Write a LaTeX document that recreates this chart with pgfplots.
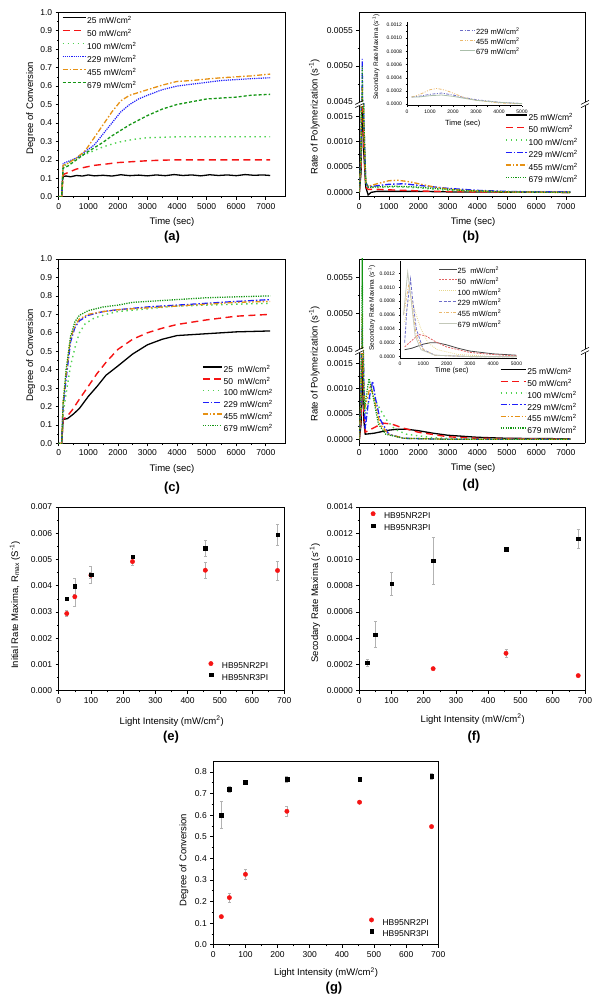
\documentclass[border=0pt]{standalone}
\usepackage{fontspec}
\setmainfont{Liberation Sans}
\usepackage{pgfplots}
\pgfplotsset{compat=1.18}
\usepackage{pgfplotstable}

\definecolor{cRed}{RGB}{245,20,20}
\definecolor{cLG}{RGB}{80,210,80}
\definecolor{cBlue}{RGB}{30,30,250}
\definecolor{cOr}{RGB}{230,145,20}
\definecolor{cDG}{RGB}{20,150,20}
\definecolor{iBlue}{RGB}{110,110,200}
\definecolor{iOr}{RGB}{235,185,110}
\definecolor{iGr}{RGB}{170,190,170}
\definecolor{iGray}{RGB}{70,70,70}
\definecolor{iRed}{RGB}{225,100,100}
\definecolor{iYel}{RGB}{230,215,140}
\definecolor{iLG}{RGB}{195,200,185}

% ---------- panel (a) ----------
\pgfplotstableread{
x y
0 0
100 0
130 0.09
160 0.11
250 0.112
400 0.108
600 0.115
800 0.112
1000 0.118
1200 0.113
1500 0.116
1800 0.112
2100 0.119
2400 0.114
2700 0.117
3000 0.113
3300 0.118
3600 0.114
3900 0.12
4200 0.115
4500 0.118
4800 0.113
5100 0.119
5400 0.115
5700 0.118
6000 0.114
6300 0.12
6600 0.116
6900 0.118
7150 0.115
}\taA
\pgfplotstableread{
x y
0 0
100 0
150 0.12
300 0.13
600 0.15
900 0.16
1200 0.17
1500 0.175
2000 0.185
2500 0.19
3000 0.195
3500 0.198
4000 0.2
5000 0.2
6000 0.2
7150 0.2
}\taB
\pgfplotstableread{
x y
0 0
100 0
150 0.16
300 0.18
600 0.21
900 0.23
1200 0.25
1500 0.27
2000 0.295
2500 0.31
3000 0.32
3500 0.322
4000 0.325
5000 0.325
6000 0.325
7150 0.325
}\taC
\pgfplotstableread{
x y
0 0
100 0
150 0.18
300 0.19
600 0.21
900 0.245
1200 0.28
1500 0.34
1800 0.40
2100 0.46
2400 0.50
2700 0.53
3000 0.55
3500 0.58
4000 0.60
4500 0.61
5000 0.62
5500 0.63
6000 0.635
6500 0.64
7150 0.645
}\taD
\pgfplotstableread{
x y
0 0
100 0
150 0.17
300 0.18
600 0.21
900 0.25
1200 0.32
1500 0.39
1800 0.46
2100 0.52
2400 0.55
2700 0.565
3000 0.58
3500 0.605
4000 0.625
4500 0.63
5000 0.638
5500 0.645
6000 0.65
6500 0.655
7150 0.665
}\taE
\pgfplotstableread{
x y
0 0
100 0
150 0.155
300 0.165
600 0.2
900 0.235
1200 0.265
1500 0.295
1800 0.33
2100 0.36
2400 0.39
2700 0.415
3000 0.44
3500 0.475
4000 0.5
4500 0.515
5000 0.53
5500 0.535
6000 0.54
6500 0.55
7150 0.555
}\taF

% ---------- panel (b) ----------
\pgfplotstableread{
x y
0 0
60 0.0004
100 0.0022
150 0.0008
220 0.0001
300 -0.00005
400 0.0
600 0.00002
1000 0.00002
2000 0.00002
3000 0.00001
5000 0.000005
7150 0
}\tbA
\pgfplotstableread{
x y
0 0
60 0.0005
100 0.003
150 0.001
220 0.0001
300 0.00006
600 0.00006
1000 0.00005
1500 0.00004
2500 0.00002
4000 0.00001
7150 0
}\tbB
\pgfplotstableread{
x y
0 0
60 0.0006
100 0.004
150 0.0012
220 0.0002
300 0.0001
700 0.0001
1300 0.00011
2000 0.00009
3000 0.00004
4000 0.00002
5500 0.000005
7150 0
}\tbC
\pgfplotstableread{
x y
0 0
60 0.0008
100 0.0051
150 0.0015
220 0.0002
300 0.00011
600 0.00013
1000 0.00016
1500 0.00017
2000 0.00014
2500 0.00011
3000 0.00008
4000 0.00004
5000 0.00002
6000 0.00001
7150 0.00001
}\tbD
\pgfplotstableread{
x y
0 0
60 0.0008
100 0.0047
150 0.0014
220 0.0002
300 0.00012
600 0.00017
1000 0.00023
1300 0.00024
1700 0.00021
2500 0.00011
3000 0.00007
3500 0.00004
5000 0.00001
7150 0
}\tbE
\pgfplotstableread{
x y
0 0
60 0.0008
100 0.0050
150 0.0015
220 0.0002
300 0.0001
700 0.00011
1200 0.00012
1800 0.00011
2500 0.00008
3500 0.00004
5000 0.00001
7150 0
}\tbF
\pgfplotstableread{
x y
200 0.00011
500 0.00012
1000 0.00015
1500 0.00017
2000 0.00014
2500 0.0001
3000 0.00007
4000 0.00003
5000 0.00001
}\tbiD
\pgfplotstableread{
x y
200 0.00011
500 0.00014
1000 0.00022
1300 0.00024
1700 0.00021
2500 0.0001
3000 0.00006
4000 0.00002
5000 0.000005
}\tbiE
\pgfplotstableread{
x y
200 0.00011
500 0.00011
1000 0.00013
1500 0.00014
2000 0.00012
3000 0.00006
4000 0.00003
5000 0.00001
}\tbiF

% ---------- panel (c) ----------
\pgfplotstableread{
x y
0 0
100 0
150 0.13
300 0.135
500 0.16
700 0.19
1000 0.255
1300 0.31
1600 0.37
2000 0.42
2500 0.485
3000 0.535
3500 0.565
4000 0.585
5000 0.595
6000 0.605
7150 0.61
}\tcA
\pgfplotstableread{
x y
0 0
100 0
150 0.13
300 0.15
450 0.18
700 0.24
1000 0.31
1300 0.38
1600 0.44
2000 0.51
2500 0.565
3000 0.60
3500 0.625
4000 0.645
5000 0.67
6000 0.69
7150 0.70
}\tcB
\pgfplotstableread{
x y
0 0
100 0
150 0.16
250 0.27
400 0.42
550 0.52
700 0.6
900 0.65
1200 0.68
1600 0.70
2000 0.715
3000 0.73
4000 0.745
5000 0.75
6000 0.755
7150 0.76
}\tcC
\pgfplotstableread{
x y
0 0
100 0
150 0.2
250 0.35
400 0.55
550 0.63
700 0.665
1000 0.695
1500 0.715
2000 0.725
3000 0.74
4000 0.75
5000 0.76
6000 0.77
7150 0.78
}\tcD
\pgfplotstableread{
x y
0 0
100 0
150 0.22
250 0.38
400 0.57
550 0.64
700 0.675
1000 0.7
1500 0.715
2000 0.725
3000 0.735
4000 0.745
5000 0.755
6000 0.765
7150 0.77
}\tcE
\pgfplotstableread{
x y
0 0
100 0
150 0.22
250 0.4
400 0.58
550 0.66
700 0.695
1000 0.72
1500 0.74
2000 0.75
2500 0.765
3000 0.77
4000 0.78
5000 0.79
6000 0.795
7150 0.80
}\tcF

% ---------- panel (d) ----------
\pgfplotstableread{
x y
0 0
60 0.0003
100 0.0016
150 0.0004
200 0.0001
500 0.00012
1000 0.00018
1300 0.0002
1600 0.0002
2000 0.00017
2500 0.00012
3000 0.00008
4000 0.00004
5000 0.00002
7150 0.00001
}\tdA
\pgfplotstableread{
x y
0 0
60 0.0004
100 0.0025
150 0.0006
200 0.00014
400 0.0002
800 0.00032
1100 0.0003
1500 0.00022
2000 0.00014
3000 0.00005
4000 0.00002
7150 0
}\tdB
\pgfplotstableread{
x y
0 0
60 0.0006
100 0.004
150 0.0010
200 0.0005
350 0.0008
500 0.00082
700 0.0006
900 0.0004
1200 0.0002
1600 0.0001
2500 0.00003
4000 0
7150 0
}\tdC
\pgfplotstableread{
x y
0 0
60 0.0008
100 0.0048
150 0.0012
200 0.0002
300 0.0007
450 0.00115
550 0.0008
700 0.0004
1000 0.0001
1500 0.00002
3000 0
7150 0
}\tdD
\pgfplotstableread{
x y
0 0
60 0.0009
100 0.0050
140 0.0012
180 0.0006
380 0.00107
500 0.0008
700 0.0003
1000 0.0001
1500 0.00002
3000 0
7150 0
}\tdE
\pgfplotstableread{
x y
0 0
60 0.001
100 0.0058
140 0.0012
170 0.0006
330 0.0012
450 0.0009
650 0.0003
900 0.0001
1500 0.00002
3000 0
7150 0
}\tdF
\pgfplotstableread{
x y
200 0.0001
500 0.00012
1000 0.00018
1300 0.0002
1600 0.0002
2000 0.00017
2500 0.00012
3000 0.00008
4000 0.00004
5000 0.00002
}\tdiA
\pgfplotstableread{
x y
200 0.00014
400 0.0002
800 0.00032
1100 0.0003
1500 0.00022
2000 0.00014
3000 0.00006
4000 0.00003
5000 0.00001
}\tdiB
\pgfplotstableread{
x y
200 0.0005
350 0.0008
500 0.00082
700 0.0006
900 0.0004
1200 0.0002
1600 0.0001
2500 0.00003
4000 0
5000 0
}\tdiC
\pgfplotstableread{
x y
200 0.0002
300 0.0007
450 0.00112
550 0.0008
700 0.0004
1000 0.0001
1500 0.00002
3000 0
5000 0
}\tdiD
\pgfplotstableread{
x y
150 0.0006
380 0.00105
500 0.0008
700 0.0003
1000 0.0001
1500 0.00002
3000 0
5000 0
}\tdiE
\pgfplotstableread{
x y
150 0.0006
330 0.00122
450 0.0009
650 0.0003
900 0.0001
1500 0.00002
3000 0
5000 0
}\tdiF

% ---------- panels (e), (f), (g) ----------
\pgfplotstableread{
x a ae b be
25 0.00294 0.00012 0.00351 0.00005
50 0.00358 0.00036 0.00398 0.0003
100 0.00440 0.00010 0.00442 0.00032
229 0.00492 0.00015 0.00511 0.00005
455 0.00459 0.0003 0.00543 0.0003
679 0.00458 0.00037 0.00595 0.0004
}\te
\pgfplotstableread{
x a ae
229 0.000168 0.000005
455 0.000285 0.00003
679 0.000115 0.000005
}\tfa
\pgfplotstableread{
x b be
25 0.000213 0.00003
50 0.000428 0.0001
100 0.000815 0.00009
229 0.00099 0.00018
455 0.00108 0.00001
679 0.001158 0.00007
}\tfb
\pgfplotstableread{
x a ae b be
25 0.13 0.005 0.601 0.062
50 0.218 0.022 0.72 0.015
100 0.326 0.022 0.752 0.005
229 0.618 0.025 0.766 0.015
455 0.66 0.005 0.768 0.005
679 0.547 0.005 0.78 0.013
}\tg

\newcommand\lbl{\fontsize{9.5}{11}\selectfont}
\newcommand\plbl{\fontsize{13}{15}\selectfont\bfseries}
\newcommand\ilbl{\fontsize{6.5}{7.5}\selectfont}
\newcommand\cm{mW/cm\textsuperscript{2}}

\pgfplotsset{
  base/.style={
    scale only axis, anchor=south west,
    tick align=outside,
    major tick length=3pt, minor tick length=1.6pt,
    axis line style={line width=0.9pt},
    every tick/.append style={line width=0.6pt, black},
    tick label style={font=\fontsize{8.5}{9}\selectfont},
    scaled x ticks=false, scaled y ticks=false,
    /pgf/number format/assume math mode=true,
    /pgf/number format/1000 sep={},
    minor x tick num=1, minor y tick num=1,
    legend cell align=left,
    legend style={draw=none, fill=none, inner sep=0pt,
      font=\fontsize{8.5}{9}\selectfont,
      nodes={inner sep=1pt, text height=6.5pt, text depth=1.5pt}},
  },
  inset/.style={
    scale only axis, anchor=south west,
    axis lines*=left, tick align=outside,
    major tick length=1.5pt, minor tick length=0.8pt,
    axis line style={line width=0.5pt},
    every tick/.append style={line width=0.4pt, black},
    tick label style={font=\fontsize{5}{5.5}\selectfont},
    xticklabel style={yshift=0.6pt},
    scaled x ticks=false, scaled y ticks=false,
    /pgf/number format/assume math mode=true,
    /pgf/number format/1000 sep={},
    xmin=0, xmax=5000, xtick={0,1000,2000,3000,4000,5000},
    ytick={0,0.0002,0.0004,0.0006,0.0008,0.001,0.0012},
    yticklabel style={/pgf/number format/fixed, /pgf/number format/fixed zerofill, /pgf/number format/precision=4},
    minor x tick num=1, minor y tick num=1,
    legend cell align=left,
    legend style={draw=none, fill=none, inner sep=0pt,
      font=\fontsize{7.5}{8}\selectfont,
      nodes={inner sep=0.6pt, text height=5.5pt, text depth=1.5pt}},
  },
  limg/.style={legend image code/.code={\draw[##1] (0pt,2.9pt) -- (#1,2.9pt);}},
  ilimg/.style={legend image code/.code={\draw[##1] (0pt,2.5pt) -- (#1,2.5pt);}},
  mimg/.style={legend image code/.code={\path[draw=none, fill=none] (0pt,0pt) (13pt,1pt); \draw[##1] plot[only marks] coordinates {(3pt,2.7pt)};}},
  yprec/.style={yticklabel style={/pgf/number format/fixed, /pgf/number format/fixed zerofill, /pgf/number format/precision=#1}},
  s25/.style={black, line width=1.3pt, solid},
  s50/.style={color=cRed, line width=1.4pt, dash pattern=on 7pt off 4.5pt},
  s100/.style={color=cLG, line width=1.4pt, dash pattern=on 1.4pt off 3.6pt},
  s229a/.style={color=cBlue, line width=1.2pt, dash pattern=on 1.2pt off 1pt},
  s229/.style={color=cBlue, line width=1.3pt, dash pattern=on 6pt off 2pt on 1.5pt off 2pt},
  s455a/.style={color=cOr, line width=1.3pt, dash pattern=on 5pt off 2pt on 1.5pt off 2pt},
  s455/.style={color=cOr, line width=1.3pt, dash pattern=on 5pt off 2pt on 1.5pt off 2pt on 1.5pt off 2pt},
  s679a/.style={color=cDG, line width=1.3pt, dash pattern=on 3pt off 2pt},
  s679/.style={color=cDG, line width=1.3pt, dash pattern=on 1.2pt off 1.2pt},
  errb/.style={error bars/y dir=both, error bars/y explicit,
    error bars/error bar style={color=gray!60, line width=0.5pt, solid},
    error bars/error mark options={color=gray!60, mark size=1.5pt, rotate=90, line width=0.5pt}},
  redpt/.style={only marks, mark=*, mark size=2.2pt, color=cRed},
  blkpt/.style={only marks, mark=square*, mark size=1.8pt, color=black},
}

\newcommand\brk[2]{% x, y (pt)
  \fill[white] (#1-3.5pt,#2-1.6pt) rectangle (#1+3.5pt,#2+1.6pt);
  \draw[line width=0.6pt] (#1-4pt,#2-3.6pt) -- (#1+4pt,#2+0.4pt);
  \draw[line width=0.6pt] (#1-4pt,#2-0.4pt) -- (#1+4pt,#2+3.6pt);
}

\begin{document}
\begin{tikzpicture}
\path[use as bounding box] (0pt,0pt) rectangle (601pt,1004pt);

% ================= (a) =================
\begin{axis}[base, tick pos=left, at={(58.7pt,807.3pt)}, width=226.3pt, height=184.4pt,
  xmin=0, xmax=7650, ymin=0, ymax=1,
  xtick={0,1000,2000,3000,4000,5000,6000,7000},
  ytick={0,0.1,0.2,0.3,0.4,0.5,0.6,0.7,0.8,0.9,1.0}, yprec=1,
  limg=23pt,
  legend style={at={(0.013,0.983)}, anchor=north west, row sep=3pt}]
\addplot[s25] table {\taA}; \addlegendentry{25 \cm}
\addplot[s50] table {\taB}; \addlegendentry{50 \cm}
\addplot[s100] table {\taC}; \addlegendentry{100 \cm}
\addplot[s229a] table {\taD}; \addlegendentry{229 \cm}
\addplot[s455a] table {\taE}; \addlegendentry{455 \cm}
\addplot[s679a] table {\taF}; \addlegendentry{679 \cm}
\end{axis}
\node[font=\lbl] at (172pt,782.3pt) {Time (sec)};
\node[font=\plbl] at (172pt,767pt) {(a)};
\node[font=\lbl, rotate=90] at (30.7pt,896pt) {Degree of Conversion};

% ================= (b) =================
\begin{axis}[base, at={(359.3pt,807.3pt)}, width=225.7pt, height=92.7pt,
  axis x line*=bottom, axis y line*=box, xtick pos=left, ytick pos=left,
  xmin=0, xmax=7650, ymin=-0.000085, ymax=0.001745,
  xtick={0,1000,2000,3000,4000,5000,6000,7000},
  ytick={0,0.0005,0.001,0.0015}, yprec=4,
  limg=21pt,
  legend style={at={(0.973,0.121)}, anchor=south east, row sep=2.5pt}]
\addplot[s25] table {\tbA}; \addlegendentry{25 \cm}
\addplot[s50] table {\tbB}; \addlegendentry{50 \cm}
\addplot[s100] table {\tbC}; \addlegendentry{100 \cm}
\addplot[s229] table {\tbD}; \addlegendentry{229 \cm}
\addplot[s455] table {\tbE}; \addlegendentry{455 \cm}
\addplot[s679] table {\tbF}; \addlegendentry{679 \cm}
\end{axis}
\begin{axis}[base, at={(359.3pt,900pt)}, width=225.7pt, height=91.7pt,
  axis x line*=top, axis y line*=box, ytick pos=left, xtick=\empty,
  xmin=0, xmax=7650, ymin=0.00447, ymax=0.00575,
  ytick={0.0045,0.005,0.0055}, yprec=4]
\addplot[s25] table {\tbA};
\addplot[s50] table {\tbB};
\addplot[s100] table {\tbC};
\addplot[s229] table {\tbD};
\addplot[s455] table {\tbE};
\addplot[s679] table {\tbF};
\end{axis}
\brk{359.3pt}{900pt}
\brk{585pt}{900pt}
\begin{axis}[inset, at={(407pt,898.4pt)}, width=115pt, height=83.9pt,
  ymin=-0.00002, ymax=0.00125,
  ilimg=15pt,
  legend style={at={(0.456,0.92)}, anchor=north west, row sep=1.8pt}]
\addplot[color=iBlue, line width=0.8pt, dash pattern=on 3pt off 1.5pt on 1pt off 1.5pt] table {\tbiD}; \addlegendentry{229 \cm}
\addplot[color=iOr, line width=0.8pt, dash pattern=on 3pt off 1.5pt on 1pt off 1.5pt on 1pt off 1.5pt] table {\tbiE}; \addlegendentry{455 \cm}
\addplot[color=iGr, line width=0.8pt] table {\tbiF}; \addlegendentry{679 \cm}
\end{axis}
\node[font=\ilbl, rotate=90] at (376pt,947pt) {Secondary Rate Maxima (s\textsuperscript{-1})};
\node[font=\fontsize{7.5}{8}\selectfont] at (462.7pt,880.2pt) {Time (sec)};
\node[font=\lbl] at (473pt,782.3pt) {Time (sec)};
\node[font=\plbl] at (471pt,767pt) {(b)};
\node[font=\lbl, rotate=90] at (314.3pt,887pt) {Rate of Polymerization (s\textsuperscript{-1})};

% ================= (c) =================
\begin{axis}[base, tick pos=left, at={(58.7pt,560.5pt)}, width=226.3pt, height=184.5pt,
  xmin=0, xmax=7650, ymin=0, ymax=1,
  xtick={0,1000,2000,3000,4000,5000,6000,7000},
  ytick={0,0.1,0.2,0.3,0.4,0.5,0.6,0.7,0.8,0.9,1.0}, yprec=1,
  limg=19pt,
  legend style={at={(0.951,0.053)}, anchor=south east, row sep=1.7pt}]
\addplot[s25] table {\tcA}; \addlegendentry{25\ \ \cm}
\addplot[s50] table {\tcB}; \addlegendentry{50\ \ \cm}
\addplot[s100] table {\tcC}; \addlegendentry{100 \cm}
\addplot[s229] table {\tcD}; \addlegendentry{229 \cm}
\addplot[s455] table {\tcE}; \addlegendentry{455 \cm}
\addplot[s679] table {\tcF}; \addlegendentry{679 \cm}
\end{axis}
\node[font=\lbl] at (172pt,535pt) {Time (sec)};
\node[font=\plbl] at (172pt,516pt) {(c)};
\node[font=\lbl, rotate=90] at (30.7pt,649pt) {Degree of Conversion};

% ================= (d) =================
\begin{axis}[base, at={(359.3pt,560.5pt)}, width=225.7pt, height=92.5pt,
  axis x line*=bottom, axis y line*=box, xtick pos=left, ytick pos=left,
  xmin=0, xmax=7650, ymin=-0.000083, ymax=0.001745,
  xtick={0,1000,2000,3000,4000,5000,6000,7000},
  ytick={0,0.0005,0.001,0.0015}, yprec=4,
  limg=25pt,
  legend style={at={(0.968,0.079)}, anchor=south east, row sep=1.7pt}]
\addplot[s25] table {\tdA}; \addlegendentry{25 \cm}
\addplot[s50] table {\tdB}; \addlegendentry{50 \cm}
\addplot[s100] table {\tdC}; \addlegendentry{100 \cm}
\addplot[s229] table {\tdD}; \addlegendentry{229 \cm}
\addplot[s455] table {\tdE}; \addlegendentry{455 \cm}
\addplot[s679] table {\tdF}; \addlegendentry{679 \cm}
\end{axis}
\begin{axis}[base, at={(359.3pt,653pt)}, width=225.7pt, height=92pt,
  axis x line*=top, axis y line*=box, ytick pos=left, xtick=\empty,
  xmin=0, xmax=7650, ymin=0.004476, ymax=0.005754,
  ytick={0.0045,0.005,0.0055}, yprec=4]
\addplot[s25] table {\tdA};
\addplot[s50] table {\tdB};
\addplot[s100] table {\tdC};
\addplot[s229] table {\tdD};
\addplot[s455] table {\tdE};
\addplot[s679] table {\tdF};
\end{axis}
\brk{359.3pt}{653pt}
\brk{585pt}{653pt}
\begin{axis}[inset, at={(400pt,646pt)}, width=116.5pt, height=97pt,
  ymin=-0.00002, ymax=0.00138,
  ilimg=17.7pt,
  legend style={at={(0.33,0.935)}, anchor=north west, row sep=2.6pt}]
\addplot[color=iGray, line width=0.8pt] table {\tdiA}; \addlegendentry{25\ \ \cm}
\addplot[color=iRed, line width=0.8pt, dash pattern=on 2pt off 1.2pt] table {\tdiB}; \addlegendentry{50\ \ \cm}
\addplot[color=iYel, line width=0.8pt, dash pattern=on 0.8pt off 1.2pt] table {\tdiC}; \addlegendentry{100 \cm}
\addplot[color=iBlue, line width=0.8pt, dash pattern=on 3pt off 1.5pt] table {\tdiD}; \addlegendentry{229 \cm}
\addplot[color=iOr, line width=0.8pt, dash pattern=on 3pt off 1.5pt on 1pt off 1.5pt] table {\tdiE}; \addlegendentry{455 \cm}
\addplot[color=iLG, line width=0.8pt] table {\tdiF}; \addlegendentry{679 \cm}
\end{axis}
\node[font=\ilbl, rotate=90] at (371.7pt,696pt) {Secondary Rate Maxima (s\textsuperscript{-1})};
\node[font=\fontsize{7.2}{8}\selectfont] at (451.7pt,633.8pt) {Time (sec)};
\node[font=\lbl] at (473pt,535.7pt) {Time (sec)};
\node[font=\plbl] at (471pt,518.7pt) {(d)};
\node[font=\lbl, rotate=90] at (314.3pt,640pt) {Rate of Polymerization (s\textsuperscript{-1})};

% ================= (e) =================
\begin{axis}[base, tick pos=left, at={(58.7pt,313.3pt)}, width=225.6pt, height=183.7pt,
  xmin=0, xmax=700, ymin=0, ymax=0.007,
  xtick={0,100,200,300,400,500,600,700},
  ytick={0,0.001,0.002,0.003,0.004,0.005,0.006,0.007}, yprec=3,
  mimg,
  legend style={at={(0.934,0.043)}, anchor=south east, row sep=1.3pt}]
\addplot[redpt, errb] table[x=x, y=a, y error=ae] {\te}; \addlegendentry{HB95NR2PI}
\addplot[blkpt, errb] table[x=x, y=b, y error=be] {\te}; \addlegendentry{HB95NR3PI}
\end{axis}
\node[font=\lbl] at (171.7pt,283pt) {Light Intensity (\cm)};
\node[font=\plbl] at (171pt,267pt) {(e)};
\node[font=\lbl, rotate=90] at (15pt,399pt) {Initial Rate Maxima, R\textsubscript{max} (S\textsuperscript{-1})};

% ================= (f) =================
\begin{axis}[base, tick pos=left, at={(359.3pt,313.3pt)}, width=225.7pt, height=183.7pt,
  xmin=0, xmax=700, ymin=0, ymax=0.0014,
  xtick={0,100,200,300,400,500,600,700},
  ytick={0,0.0002,0.0004,0.0006,0.0008,0.001,0.0012,0.0014}, yprec=4,
  mimg,
  legend style={at={(0.047,0.977)}, anchor=north west, row sep=2pt}]
\addplot[redpt, errb] table[x=x, y=a, y error=ae] {\tfa}; \addlegendentry{HB95NR2PI}
\addplot[blkpt, errb] table[x=x, y=b, y error=be] {\tfb}; \addlegendentry{HB95NR3PI}
\end{axis}
\node[font=\lbl] at (472.7pt,285pt) {Light Intensity (\cm)};
\node[font=\plbl] at (474pt,267.3pt) {(f)};
\node[font=\lbl, rotate=90] at (315pt,401pt) {Secodary Rate Maxima (s\textsuperscript{-1})};

% ================= (g) =================
\begin{axis}[base, tick pos=left, at={(213.3pt,59.3pt)}, width=225pt, height=183.5pt,
  xmin=0, xmax=700, ymin=0, ymax=0.85,
  xtick={0,100,200,300,400,500,600,700},
  ytick={0,0.1,0.2,0.3,0.4,0.5,0.6,0.7,0.8}, yprec=1,
  mimg,
  legend style={at={(0.689,0.032)}, anchor=south west, row sep=1pt}]
\addplot[redpt, errb] table[x=x, y=a, y error=ae] {\tg}; \addlegendentry{HB95NR2PI}
\addplot[blkpt, errb] table[x=x, y=b, y error=be] {\tg}; \addlegendentry{HB95NR3PI}
\end{axis}
\node[font=\lbl] at (326pt,31.3pt) {Light Intensity (\cm)};
\node[font=\plbl] at (334pt,15.7pt) {(g)};
\node[font=\lbl, rotate=90] at (184pt,144pt) {Degree of Conversion};
\end{tikzpicture}
\end{document}
